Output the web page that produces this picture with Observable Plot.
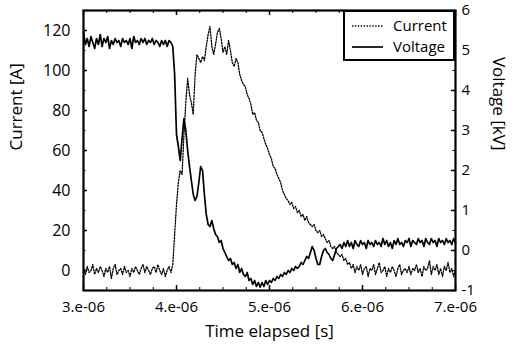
<!DOCTYPE html>
<html><head><meta charset="utf-8">
<script src="https://cdn.jsdelivr.net/npm/d3@7"></script>
<script src="https://cdn.jsdelivr.net/npm/@observablehq/plot@0.6"></script>
<style>
body{margin:0;background:#fff;}
#wrap{position:relative;width:520px;height:354px;font-family:"Open Sans",sans-serif;}
#legend{position:absolute;left:343px;top:10px;}
</style></head><body><div id="wrap"></div>
<script>
// Sample times (µs)
const timeUs = [
3.00,3.02,3.04,3.06,3.08,3.10,3.12,3.14,3.16,3.18,
3.20,3.22,3.24,3.26,3.28,3.30,3.32,3.34,3.36,3.38,
3.40,3.42,3.44,3.46,3.48,3.50,3.52,3.54,3.56,3.58,
3.60,3.62,3.64,3.66,3.68,3.70,3.72,3.74,3.76,3.78,
3.80,3.82,3.84,3.86,3.88,3.90,3.92,3.94,3.96,3.98,
4.00,4.02,4.04,4.06,4.08,4.10,4.12,4.14,4.16,4.18,
4.20,4.22,4.24,4.26,4.28,4.30,4.32,4.34,4.36,4.38,
4.40,4.42,4.44,4.46,4.48,4.50,4.52,4.54,4.56,4.58,
4.60,4.62,4.64,4.66,4.68,4.70,4.72,4.74,4.76,4.78,
4.80,4.82,4.84,4.86,4.88,4.90,4.92,4.94,4.96,4.98,
5.00,5.02,5.04,5.06,5.08,5.10,5.12,5.14,5.16,5.18,
5.20,5.22,5.24,5.26,5.28,5.30,5.32,5.34,5.36,5.38,
5.40,5.42,5.44,5.46,5.48,5.50,5.52,5.54,5.56,5.58,
5.60,5.62,5.64,5.66,5.68,5.70,5.72,5.74,5.76,5.78,
5.80,5.82,5.84,5.86,5.88,5.90,5.92,5.94,5.96,5.98,
6.00,6.02,6.04,6.06,6.08,6.10,6.12,6.14,6.16,6.18,
6.20,6.22,6.24,6.26,6.28,6.30,6.32,6.34,6.36,6.38,
6.40,6.42,6.44,6.46,6.48,6.50,6.52,6.54,6.56,6.58,
6.60,6.62,6.64,6.66,6.68,6.70,6.72,6.74,6.76,6.78,
6.80,6.82,6.84,6.86,6.88,6.90,6.92,6.94,6.96,6.98,
7.00];

// Current [A]
const currentA = [
1,-2,2,-1,0,3,-2,1,-1,2,
0,-3,1,-1,2,-4,1,3,-2,0,
1,-2,2,-1,0,-3,1,-1,2,0,
-2,1,3,-1,2,0,-2,1,2,-1,
3,0,-2,1,-3,0,2,-1,3,18,
33,44,50,48,68,84,96,88,84,78,
98,108,106,104,107,105,112,118,122,112,
108,113,119,121,116,109,112,108,115,110,
104,102,106,104,98,95,93,92,88,86,
83,78,79,75,74,70,69,66,63,61,
58,56,52,51,48,46,44,40,38,36,
35,33,34,31,32,29,30,27,28,25,
27,24,23,22,23,20,19,20,17,18,
16,14,15,12,11,12,9,8,7,8,
5,6,3,4,1,3,-1,2,0,3,
-2,1,2,-3,1,0,3,-2,1,4,
-1,0,2,-3,1,-1,2,0,-3,1,
3,-2,0,1,-1,2,-2,1,0,3,
-1,1,-3,2,0,1,5,-2,2,0,
3,-2,1,-3,2,0,4,-1,1,-3,
1];

// Voltage [kV]
const voltageKV = [
5.45,5.15,5.30,5.10,5.35,5.20,5.05,5.30,5.15,5.40,
5.10,5.30,5.20,5.35,5.05,5.25,5.15,5.30,5.20,5.25,
5.10,5.30,5.20,5.25,5.15,5.30,5.05,5.35,5.20,5.25,
5.15,5.30,5.20,5.30,5.15,5.25,5.20,5.30,5.15,5.25,
5.20,5.10,5.25,5.15,5.25,5.10,5.25,5.20,5.1,4.4,
2.9,2.6,2.25,2.8,3.3,3.0,2.5,2.1,1.75,1.4,
1.25,1.35,1.7,2.1,2.0,1.4,0.9,0.65,0.6,0.75,
0.55,0.4,0.35,0.2,0.25,0.05,-0.05,-0.15,-0.25,-0.2,
-0.35,-0.3,-0.45,-0.35,-0.55,-0.45,-0.6,-0.65,-0.55,-0.75,
-0.7,-0.85,-0.75,-0.9,-0.8,-0.92,-0.8,-0.9,-0.75,-0.85,
-0.75,-0.8,-0.7,-0.75,-0.65,-0.7,-0.6,-0.65,-0.55,-0.6,
-0.5,-0.55,-0.45,-0.5,-0.4,-0.45,-0.4,-0.3,-0.35,-0.25,
-0.15,-0.2,-0.05,0.1,0.0,-0.2,-0.35,-0.35,-0.15,0.0,
0.05,-0.05,-0.1,-0.2,-0.25,-0.1,0.05,0.1,0.15,0.05,
0.2,0.1,0.25,0.1,0.2,0.05,0.25,0.15,0.1,0.25,
0.15,0.2,0.05,0.25,0.15,0.2,0.1,0.25,0.15,0.2,
0.1,0.3,0.15,0.25,0.1,0.2,0.05,0.25,0.15,0.3,
0.15,0.2,0.1,0.25,0.2,0.3,0.1,0.25,0.2,0.15,
0.3,0.2,0.25,0.1,0.3,0.2,0.15,0.3,0.2,0.25,
0.1,0.3,0.2,0.25,0.15,0.3,0.2,0.25,0.15,0.3,
0.2];

// Ticks
const xMajor = [3, 4, 5, 6, 7];
const xTickLabels = ["3.e-06", "4.e-06", "5.e-06", "6.e-06", "7.e-06"];
const xMinor = [3.25, 3.5, 3.75, 4.25, 4.5, 4.75, 5.25, 5.5, 5.75, 6.25, 6.5, 6.75];
const currentTicks = [0, 20, 40, 60, 80, 100, 120];
const currentMinor = [10, 30, 50, 70, 90, 110];
const voltageTicks = [-1, 0, 1, 2, 3, 4, 5, 6];
const voltageMinor = [-0.5, 0.5, 1.5, 2.5, 3.5, 4.5, 5.5];

// Voltage axis (−1…6 kV) shares the frame with current (−10…130 A)
const vToA = v => 10 + 20 * v;

const W = 520, H = 354, mL = 83, mR = 65, mT = 10, mB = 64;
const pw = W - mL - mR, ph = H - mT - mB;
const FONT = "'Open Sans', sans-serif";

const rows = timeUs.map((t, i) => ({t, c: currentA[i], v: voltageKV[i]}));

const chart = Plot.plot({
  width: W, height: H,
  marginLeft: mL, marginRight: mR, marginTop: mT, marginBottom: mB,
  style: {fontFamily: FONT, fontSize: "15px", color: "#000", background: "#fff"},
  x: {domain: [3, 7], axis: null},
  y: {domain: [-10, 130], axis: null},
  marks: [
    Plot.line(rows, {x: "t", y: "c", stroke: "#000", strokeWidth: 1.3, strokeDasharray: "1.4,1.5"}),
    Plot.line(rows, {x: "t", y: d => vToA(d.v), stroke: "#000", strokeWidth: 1.7}),
    // inward ticks
    Plot.ruleX(xMajor, {x: d => d, insetTop: ph - 5, strokeWidth: 1.5}),
    Plot.ruleX(xMinor, {x: d => d, insetTop: ph - 3}),
    Plot.ruleX(xMajor, {x: d => d, insetBottom: ph - 5, strokeWidth: 1.5}),
    Plot.ruleX(xMinor, {x: d => d, insetBottom: ph - 3}),
    Plot.ruleY(currentTicks, {y: d => d, insetRight: pw - 4, strokeWidth: 1.5}),
    Plot.ruleY(currentMinor, {y: d => d, insetRight: pw - 2.5}),
    Plot.ruleY(voltageTicks.map(vToA), {y: d => d, insetLeft: pw - 4, strokeWidth: 1.5}),
    Plot.ruleY(voltageMinor.map(vToA), {y: d => d, insetLeft: pw - 2.5}),
    Plot.frame({strokeWidth: 2.2}),
    // tick labels
    Plot.text(xMajor, {x: d => d, text: (d, i) => xTickLabels[i], frameAnchor: "bottom", dy: 21, fontSize: 15}),
    Plot.text(currentTicks, {y: d => d, text: d => String(d), frameAnchor: "left", dx: -13, textAnchor: "end", fontSize: 16}),
    Plot.text(voltageTicks, {y: d => vToA(d), text: d => String(d), frameAnchor: "right", dx: 6, textAnchor: "start", fontSize: 15}),
    // axis titles
    Plot.text(["Current [A]"], {text: d => d, frameAnchor: "left", dx: -67, rotate: -90, fontSize: 17}),
    Plot.text(["Voltage [kV]"], {text: d => d, frameAnchor: "right", dx: 43, rotate: 90, fontSize: 17}),
    Plot.text(["Time elapsed [s]"], {text: d => d, frameAnchor: "bottom", dy: 46, fontSize: 17})
  ]
});
const wrap = document.getElementById("wrap");
wrap.appendChild(chart);

// legend (inside the plot, top-right)
const ns = "http://www.w3.org/2000/svg";
const lg = document.createElementNS(ns, "svg");
lg.setAttribute("id", "legend");
lg.setAttribute("width", 112);
lg.setAttribute("height", 51);
lg.innerHTML = `
  <rect x="1" y="1" width="110" height="49" fill="#fff" stroke="#000" stroke-width="2"/>
  <line x1="9" x2="40" y1="16" y2="16" stroke="#000" stroke-width="1.3" stroke-dasharray="1.4,1.5"/>
  <line x1="9" x2="40" y1="37" y2="37" stroke="#000" stroke-width="1.7"/>
  <text x="50" y="21" font-family="${FONT}" font-size="15">Current</text>
  <text x="50" y="42" font-family="${FONT}" font-size="15">Voltage</text>`;
wrap.appendChild(lg);
</script>
</body></html>
